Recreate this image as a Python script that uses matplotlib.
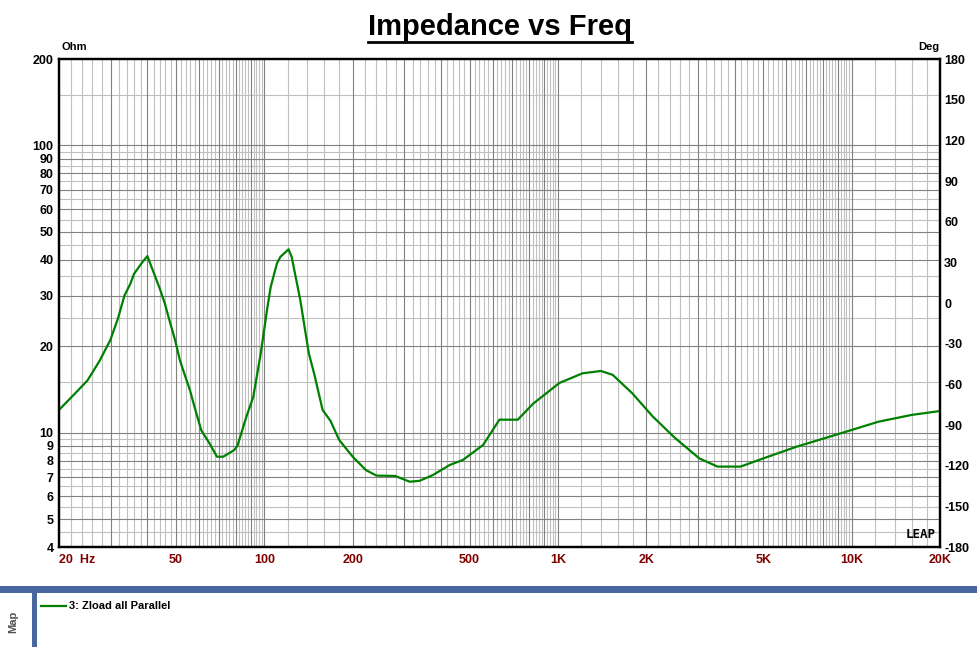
import numpy as np
import matplotlib
matplotlib.use("Agg")
import matplotlib.pyplot as plt
from matplotlib.ticker import NullLocator, FixedLocator
from matplotlib.patches import Rectangle
from matplotlib.lines import Line2D

plt.rcParams['font.family'] = ['Liberation Sans', 'DejaVu Sans']
plt.rcParams['font.weight'] = 'bold'

# ---- data (Hz, Ohm) ----
freq_hz = [20, 23, 25, 27.5, 29.9, 31.8, 33.4, 35, 36, 38.5, 40, 41.3, 44, 45.8,
           47.5, 49.7, 51.6, 53.6, 55.8, 58, 61, 65, 69, 72.5, 79, 81, 87, 91.7,
           97.3, 102.6, 105.2, 110.5, 113.6, 121, 124, 132.6, 141.8, 148, 158, 168,
           180, 200, 222, 241, 279, 313, 338, 375, 428, 475, 556, 632, 730, 822,
           1012, 1213, 1401, 1536, 1793, 2101, 2500, 3029, 3495, 4185, 5007,
           6500, 8426, 9570, 12340, 16000, 20000]
zload_ohm = [12.0, 13.9, 15.2, 17.8, 21.0, 25.1, 30.0, 33.0, 35.7, 39.3, 41.2, 37.8,
             31.9, 28.3, 24.7, 21.0, 17.9, 15.9, 14.1, 12.2, 10.2, 9.2, 8.25, 8.25,
             8.7, 9.0, 11.4, 13.3, 18.9, 27.5, 32.2, 38.9, 41.0, 43.5, 40.9, 29.0,
             18.9, 16.0, 12.0, 11.0, 9.43, 8.25, 7.41, 7.09, 7.07, 6.75, 6.8, 7.12,
             7.72, 8.04, 9.06, 11.1, 11.1, 12.6, 14.9, 16.1, 16.4, 15.9, 13.7, 11.4,
             9.6, 8.14, 7.62, 7.62, 8.14, 8.94, 9.69, 10.08, 10.92, 11.53, 11.9]

x_tick_vals = [20, 50, 100, 200, 500, 1000, 2000, 5000, 10000, 20000]
x_tick_labels = ["20  Hz", "50", "100", "200", "500", "1K", "2K", "5K", "10K", "20K"]
y_tick_vals = [200, 100, 90, 80, 70, 60, 50, 40, 30, 20, 10, 9, 8, 7, 6, 5, 4]
deg_ticks = [180, 150, 120, 90, 60, 30, 0, -30, -60, -90, -120, -150, -180]
series_name = "3: Zload all Parallel"

W, H = 977, 647
fig = plt.figure(figsize=(W / 100, H / 100), dpi=100)
fig.patch.set_facecolor("white")

# plot area in pixels: x 59..940, y 59..547
ax = fig.add_axes([59 / W, (H - 547) / H, 881 / W, 488 / H])
ax.set_xscale("log")
ax.set_yscale("log")
ax.set_xlim(20, 20000)
ax.set_ylim(4, 200)
ax.xaxis.set_minor_locator(NullLocator())
ax.yaxis.set_minor_locator(NullLocator())

# LEAP style grid: light lines between, dark lines on each step
light = "#c0c0c0"
dark = "#808080"
for dec in [10, 100, 1000, 10000]:
    for k in range(10, 100, 2):
        f = dec * k / 10
        if f <= 20 or f >= 20000:
            continue
        c = dark if k % 10 == 0 else light
        ax.axvline(f, color=c, lw=0.8, zorder=1 if c == light else 1.5)
for dec in [1, 10, 100]:
    for k in range(2, 20):
        v = dec * k / 2
        if v <= 4 or v >= 200:
            continue
        c = dark if k % 2 == 0 else light
        ax.axhline(v, color=c, lw=0.8, zorder=1 if c == light else 1.5)

ax.plot(freq_hz, zload_ohm, color="#008000", lw=1.6, zorder=3, label=series_name)

for s in ax.spines.values():
    s.set_linewidth(1.6)
    s.set_color("black")

ax.set_xticks(x_tick_vals)
ax.set_xticklabels(x_tick_labels, color="#800000", fontsize=9, fontweight="bold")
ax.get_xticklabels()[0].set_horizontalalignment("left")
ax.get_xticklabels()[0].set_x(19.2)
ax.set_yticks(y_tick_vals)
ax.set_yticklabels([str(v) for v in y_tick_vals], fontsize=9, fontweight="bold")
ax.tick_params(axis="both", length=0, pad=5)
ax.tick_params(axis="y", pad=4)

# phase axis on the right (no trace drawn)
ax2 = ax.twinx()
ax2.set_ylim(-180, 180)
ax2.yaxis.set_major_locator(FixedLocator(deg_ticks))
ax2.set_yticklabels([str(d) for d in deg_ticks], fontsize=9, fontweight="bold")
ax2.tick_params(axis="y", length=0, pad=3)
for s in ax2.spines.values():
    s.set_linewidth(1.6)

fig.text(62 / W, 1 - 47 / H, "Ohm", fontsize=8, fontweight="bold", va="center")
fig.text(918 / W, 1 - 47 / H, "Deg", fontsize=8, fontweight="bold", va="center")

# LEAP mark
ax.text(0.995, 0.012, "LEAP", transform=ax.transAxes, ha="right", va="bottom",
        fontsize=9, fontweight="bold", family="DejaVu Sans Mono")

# title with underline
title = fig.text(500 / W, 1 - 27 / H, "Impedance vs Freq", fontsize=21,
                 fontweight="bold", ha="center", va="center")
fig.canvas.draw()
bb = title.get_window_extent()
fig.add_artist(Line2D([bb.x0 / W, bb.x1 / W], [(H - 42) / H, (H - 42) / H],
                      color="black", lw=2.0))

# bottom map panel
band = "#4866a0"
fig.add_artist(Rectangle((0, (H - 593) / H), 1, 7 / H, color=band, lw=0))
fig.add_artist(Rectangle((32 / W, 0), 5 / W, (H - 593) / H, color=band, lw=0))
fig.text(13 / W, 1 - 622 / H, "Map", rotation=90, fontsize=8, fontweight="bold",
         color="#505050", ha="center", va="center")
fig.legend(handles=ax.get_lines()[-1:], loc="upper left",
           bbox_to_anchor=(37 / W, 1 - 597 / H), frameon=False, fontsize=8,
           handlelength=2.2, handletextpad=0.3, borderaxespad=0)

fig.savefig("out.png", dpi=100)
